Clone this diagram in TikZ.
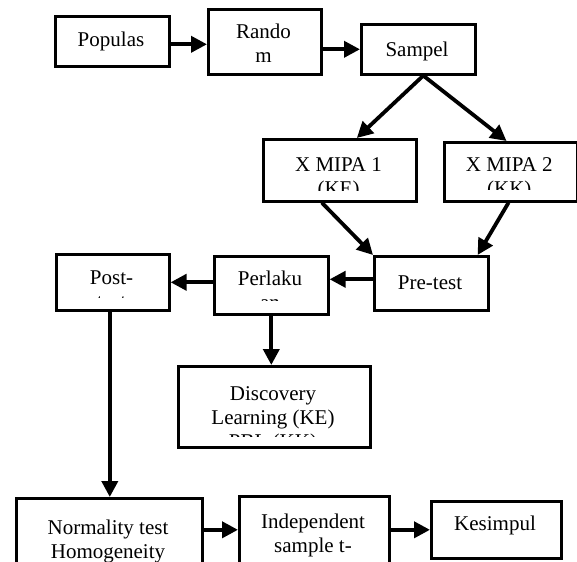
\documentclass[tikz,border=0pt]{standalone}
\usepackage{fontspec}
\setmainfont{Liberation Serif}
\usetikzlibrary{arrows.meta}
\tikzset{
  box/.style={draw, line width=2.6pt, inner sep=0pt, anchor=north west},
  txt/.style={inner sep=0pt, align=center, anchor=base, font=\fontsize{21pt}{24pt}\selectfont},
  arr/.style={line width=3.8pt, -{Triangle[length=16pt,width=16pt]}}
}
\newcommand\flowbox[8]{% name, x1, y1, x2, y2, clip y, last baseline y, text
  \node[box, minimum width={#4-#2}, minimum height={#5-#3}] (#1) at (#2,#3) {};
  \begin{scope}
    \clip (#2,#3) rectangle (#4,#6);
    \node[txt] (#1-t) at ({(#2+#4)/2},#7) {#8};
  \end{scope}
}
\begin{document}
\begin{tikzpicture}[x=1pt,y=-1pt]
\clip (0,0) rectangle (577,561);
\fill[white] (0,0) rectangle (577,561);
\flowbox{populas}{54}{15}{168}{65}{55}{47}{Populas}
\flowbox{random}{207}{8}{320}{73}{64}{63}{Rando\\m}
\flowbox{sampel}{360}{23}{474}{73}{63}{57}{Sampel}
\flowbox{mipa1}{262}{138}{415}{200}{191}{196}{X MIPA 1\\(KE)}
\flowbox{mipa2}{443}{141}{575.5}{200}{190}{196}{X MIPA 2\\(KK)}
\flowbox{pretest}{373}{255}{487}{309}{299}{289}{Pre-test}
\flowbox{perlakuan}{213}{255}{327}{313}{300}{309}{Perlaku\\an}
\flowbox{post}{55}{253}{168}{309}{297.5}{308}{Post-\\test}
\flowbox{discovery}{177}{365}{369}{446}{436}{448}{\fontsize{21pt}{26pt}\selectfont Discovery\\Learning (KE)\\PBL (KK)}
\flowbox{normality}{15}{497}{201}{600}{600}{558}{Normality test\\Homogeneity}
\flowbox{independent}{238}{495}{388}{600}{600}{552}{\fontsize{21pt}{25pt}\selectfont Independent\\sample t-}
\flowbox{kesimpul}{430}{500}{560}{557}{547}{530}{Kesimpul}

\draw[arr] ([yshift=-3pt]populas.east) -- ([yshift=-3pt]populas.east -| random.west);
\draw[arr] (sampel.west -| random.east) -- (sampel.west);
\draw[arr] ([xshift=5pt]sampel.south) -- ([xshift=17pt]mipa1.north);
\draw[arr] ([xshift=5pt]sampel.south) -- ([xshift=-4pt]mipa2.north);
\draw[arr] ([xshift=-18pt]mipa1.south) -- (pretest.north west);
\draw[arr] ([xshift=-2pt]mipa2.south) -- ([xshift=-12pt]pretest.north east);
\draw[arr] ([yshift=4pt]pretest.west) -- ([yshift=4pt]pretest.west -| perlakuan.east);
\draw[arr] (post.east -| perlakuan.west) -- (post.east);
\draw[arr] (perlakuan.south) -- (perlakuan.south |- discovery.north);
\draw[arr] ([xshift=-3pt]post.south) -- ([xshift=-3pt]post.south |- normality.north);
\draw[arr] (normality.east |- kesimpul.west) -- (independent.west |- kesimpul.west);
\draw[arr] (independent.east |- kesimpul.west) -- (kesimpul.west);
\end{tikzpicture}
\end{document}
